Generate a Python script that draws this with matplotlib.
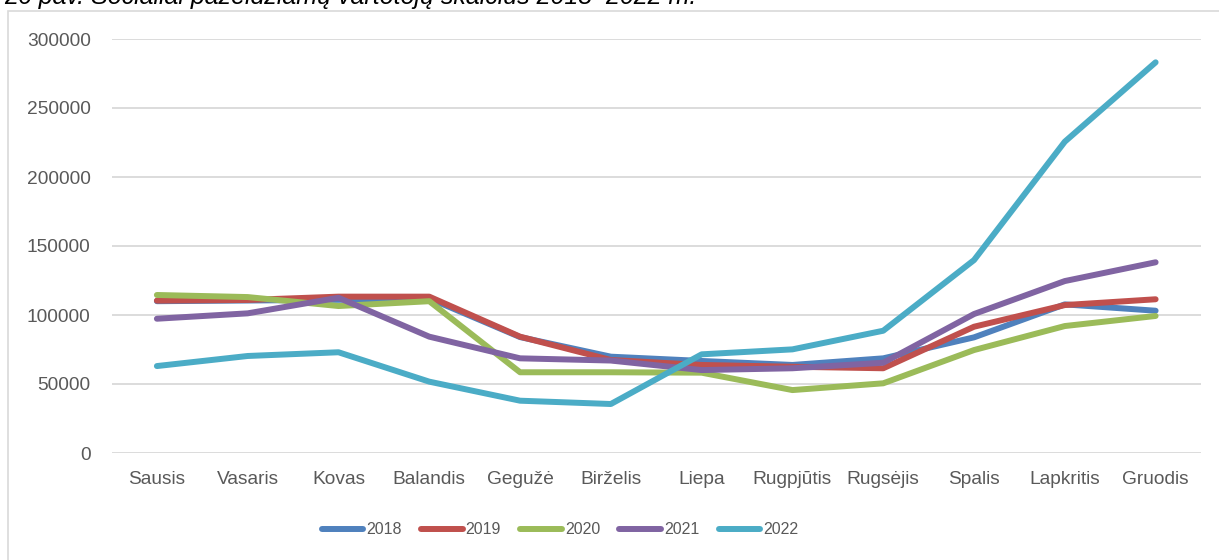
import matplotlib.pyplot as plt
from matplotlib.patches import Rectangle

months = ["Sausis", "Vasaris", "Kovas", "Balandis", "Gegužė", "Birželis",
          "Liepa", "Rugpjūtis", "Rugsėjis", "Spalis", "Lapkritis", "Gruodis"]
years = ["2018", "2019", "2020", "2021", "2022"]

v2018 = [110000, 110500, 111000, 112000, 84000, 69800, 66700, 63800, 68600, 83800, 107700, 103100]
v2019 = [110400, 110900, 113300, 113300, 84300, 67400, 63800, 62500, 61400, 91500, 107200, 111400]
v2020 = [114500, 113000, 106500, 110000, 58500, 58500, 58200, 45600, 50500, 74600, 92000, 99300]
v2021 = [97300, 101200, 112500, 84300, 68600, 67000, 60100, 61400, 65400, 100700, 124600, 138200]
v2022 = [63000, 70300, 73000, 51700, 37900, 35500, 71500, 75100, 88600, 139800, 225600, 283100]

colors = ["#4F81BD", "#C0504D", "#9BBB59", "#8064A2", "#4BACC6"]
series = [v2018, v2019, v2020, v2021, v2022]

plt.rcParams['font.family'] = ['Liberation Sans', 'DejaVu Sans']

W, H = 1219, 560
fig = plt.figure(figsize=(W / 100, H / 100), dpi=100)
ax = fig.add_axes([111.5 / W, 1 - 453 / H, (1201 - 111.5) / W, (453 - 39) / H])

x = list(range(len(months)))
for vals, col, lab in zip(series, colors, years):
    ax.plot(x, vals, color=col, lw=4.3, label=lab,
            solid_capstyle='round', solid_joinstyle='round')

ax.set_xlim(-0.5, 11.5)
ax.set_ylim(0, 300000)
ax.set_yticks(range(0, 300001, 50000))
ax.set_xticks(x)
ax.set_xticklabels(months)
ax.grid(axis='y', color='#D9D9D9', lw=1.3)
ax.set_axisbelow(True)
for s in ax.spines.values():
    s.set_visible(False)
ax.tick_params(length=0, labelsize=13.8, colors='#595959')
ax.tick_params(axis='x', pad=13)
ax.tick_params(axis='y', pad=15)

leg = ax.legend(loc='center', bbox_to_anchor=((560 - 111.5) / 1089.5, (453 - 530) / 414),
                ncol=5, frameon=False, fontsize=11.5, handlelength=2.6,
                handletextpad=0.2, columnspacing=1.2)
for t in leg.get_texts():
    t.set_color('#595959')

# chart border (cut off at right/bottom in the reference)
fig.add_artist(Rectangle((8 / W, -0.1), 1.2, 1.1 - 11 / H, transform=fig.transFigure,
                         fill=False, edgecolor='#D9D9D9', lw=1.2))

fig.text(4 / W, 1 - 4 / H, "26 pav. Socialiai pažeidžiamų vartotojų skaičius 2018–2022 m.",
         fontsize=18, style='italic', va='baseline', ha='left', color='black')

fig.savefig("out.png", dpi=100)
